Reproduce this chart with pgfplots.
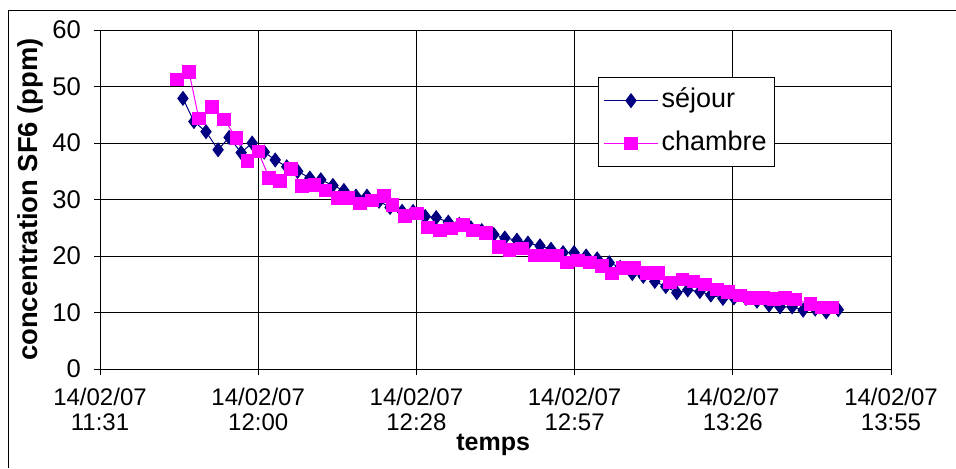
\documentclass[border=0pt]{standalone}
\usepackage{fontspec}
\setmainfont{Liberation Sans}
\usepackage{pgfplots}
\pgfplotsset{compat=1.18}
\definecolor{navy}{RGB}{0,0,128}
\definecolor{mag}{RGB}{255,0,255}
% time in minutes after 11:00
\pgfplotstableread{
t v
46.3 47.9
48.3 43.8
50.5 42.0
52.7 38.8
54.7 41.0
56.9 38.3
58.9 40.0
61.1 38.4
63.1 37.0
65.2 35.8
67.2 35.0
69.4 33.8
71.4 33.5
73.6 32.5
75.6 31.6
77.8 30.6
79.8 30.6
82.0 29.7
84.0 28.6
86.2 27.9
88.2 27.9
90.4 27.0
92.4 26.8
94.6 26.0
96.6 25.6
98.7 25.0
100.7 24.5
102.9 23.8
104.9 23.2
107.1 22.8
109.1 22.3
111.3 21.8
113.3 21.2
115.5 20.6
117.5 20.6
119.7 20.0
121.7 19.5
123.9 18.8
125.9 18.0
128.1 16.9
130.1 16.4
132.2 15.5
134.2 14.6
136.2 13.5
138.2 14.0
140.4 13.7
142.4 13.1
144.6 12.5
146.6 12.6
148.8 12.5
150.8 12.0
153.0 11.3
155.0 11.0
157.2 11.0
159.2 10.4
161.4 10.6
163.4 10.1
165.6 10.5
}\sejour
\pgfplotstableread{
t v
45.2 51.2
47.4 52.6
49.2 44.3
51.6 46.4
53.8 44.2
56.0 40.9
58.0 36.8
60.0 38.5
62.0 33.8
64.0 33.3
66.0 35.4
68.0 32.4
70.3 32.6
72.3 31.6
74.5 30.3
76.4 30.3
78.5 29.3
80.7 29.8
82.9 30.6
84.5 29.0
86.7 27.1
88.9 27.5
90.9 25.0
93.1 24.5
95.1 24.9
97.3 25.5
99.1 24.5
101.5 24.1
103.8 21.6
105.7 21.1
108.0 21.3
110.4 20.1
112.4 20.1
114.4 20.1
116.2 18.9
118.2 19.2
120.4 18.9
122.6 18.2
124.4 16.9
126.4 17.9
128.4 17.9
130.8 17.0
132.8 17.0
135.0 15.3
137.2 15.8
139.2 15.5
141.3 15.0
143.5 14.1
145.5 13.6
147.7 13.0
149.7 12.6
151.9 12.6
153.9 12.4
155.9 12.6
157.7 12.3
160.5 11.5
162.6 10.9
164.5 10.9
}\chambre
\begin{document}
\begin{tikzpicture}
\useasboundingbox (0,0) rectangle (478pt,234pt);
\draw[line width=0.5pt] (4pt,0pt) -- (4pt,229pt) -- (478pt,229pt);
\begin{axis}[
  at={(50pt,49.5pt)}, anchor=south west,
  width=395.5pt, height=169.5pt, scale only axis,
  xmin=31.2, xmax=175.2, ymin=0, ymax=60,
  xtick={31.2,60,88.8,117.6,146.4,175.2},
  xticklabels={{14/02/07\\11:31},{14/02/07\\12:00},{14/02/07\\12:28},{14/02/07\\12:57},{14/02/07\\13:26},{14/02/07\\13:55}},
  ytick={0,10,20,30,40,50,60},
  grid=major, major grid style={black, line width=0.5pt},
  axis line style={black, line width=0.5pt},
  tick style={black, line width=0.5pt},
  tick align=outside, tick pos=left, major tick length=3pt,
  /pgf/number format/assume math mode=true,
  tick label style={font=\fontsize{12}{12.5}\selectfont},
  xticklabel style={align=center, yshift=-3pt},
  yticklabel style={xshift=-3pt, font=\fontsize{12.8}{13}\selectfont},
  xlabel={temps}, ylabel={concentration SF6 (ppm)},
  xlabel style={font=\fontsize{12.5}{14}\selectfont\bfseries, at={(axis description cs:0.497,0)}, anchor=center, yshift=-38pt},
  ylabel style={font=\fontsize{13.7}{15}\selectfont\bfseries, at={(axis description cs:-0.0885,0.5)}, anchor=center},
  legend style={at={(rel axis cs:0.6296,0.861)}, anchor=north west,
    draw=black, fill=white, line width=0.5pt, inner sep=2.5pt,
    font=\fontsize{13.5}{15}\selectfont, row sep=3.5pt, column sep=0pt,
    nodes={inner sep=1.5pt, text height=11pt, text depth=4pt}},
  legend cell align=left,
  legend image code/.code={\draw[mark repeat=2,mark phase=2,#1] plot coordinates {(0pt,0pt) (13.5pt,0pt) (27pt,0pt)};},
]
\addplot[navy, line width=0.5pt, mark=diamond*, mark size=3.4pt, mark options={fill=navy, draw=navy}] table[x=t,y=v] {\sejour};
\addlegendentry{séjour}
\addplot[mag, line width=0.5pt, mark=square*, mark size=3.1pt, mark options={fill=mag, draw=mag}] table[x=t,y=v] {\chambre};
\addlegendentry{chambre}
\end{axis}
\end{tikzpicture}
\end{document}
